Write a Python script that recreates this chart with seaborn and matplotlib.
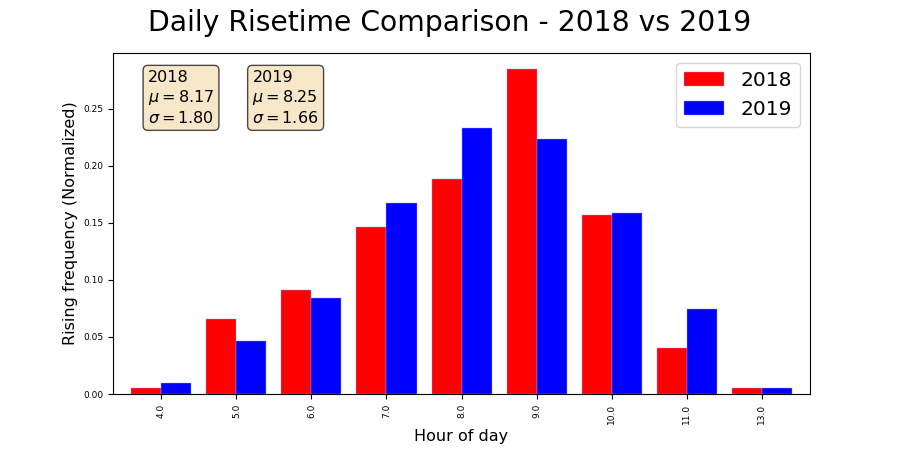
import seaborn as sns
import numpy as np
import pandas as pd
import matplotlib.pyplot as plt

hours = ['4.0', '5.0', '6.0', '7.0', '8.0', '9.0', '10.0', '11.0', '13.0']
freq_2018 = [0.0055, 0.066, 0.0915, 0.1467, 0.188, 0.2845, 0.1573, 0.0406, 0.0055]
freq_2019 = [0.0097, 0.0467, 0.0845, 0.1678, 0.2327, 0.2231, 0.1590, 0.0748, 0.0055]
stats_2018 = (8.17, 1.80)
stats_2019 = (8.25, 1.66)

df = pd.DataFrame({
    'hour': hours * 2,
    'freq': freq_2018 + freq_2019,
    'year': ['2018'] * len(hours) + ['2019'] * len(hours),
})

fig = plt.figure(figsize=(9, 4.5), dpi=100)
ax = fig.add_axes([0.1256, 0.1244, 0.7744, 0.7576])
sns.barplot(data=df, x='hour', y='freq', hue='year', order=hours,
            palette={'2018': 'red', '2019': 'blue'}, width=0.8, saturation=1,
            edgecolor='#9999ff', linewidth=0.3, ax=ax)

ax.set_xlabel('Hour of day', fontsize=11.5)
ax.set_ylabel('Rising frequency (Normalized)', fontsize=11.5)
ax.tick_params(axis='both', labelsize=6.5)
ax.tick_params(axis='x', rotation=90)
ax.set_ylim(0, max(freq_2018 + freq_2019) * 1.05)
ax.set_xlim(-0.645, len(hours) - 1 + 0.645)
for s in ax.spines.values():
    s.set_visible(True)

h, l = ax.get_legend_handles_labels()
ax.legend(h, l, fontsize=14.5, loc='upper right')

props = dict(boxstyle='round', facecolor='wheat', alpha=0.7)
ax.text(0.05, 0.95, '2018\n$\\mu=%.2f$\n$\\sigma=%.2f$' % stats_2018,
        transform=ax.transAxes, fontsize=11.5, va='top', bbox=props)
ax.text(0.2, 0.95, '2019\n$\\mu=%.2f$\n$\\sigma=%.2f$' % stats_2019,
        transform=ax.transAxes, fontsize=11.5, va='top', bbox=props)

fig.suptitle('Daily Risetime Comparison - 2018 vs 2019', fontsize=20.3, y=0.98)
fig.savefig('out.png', dpi=100)
